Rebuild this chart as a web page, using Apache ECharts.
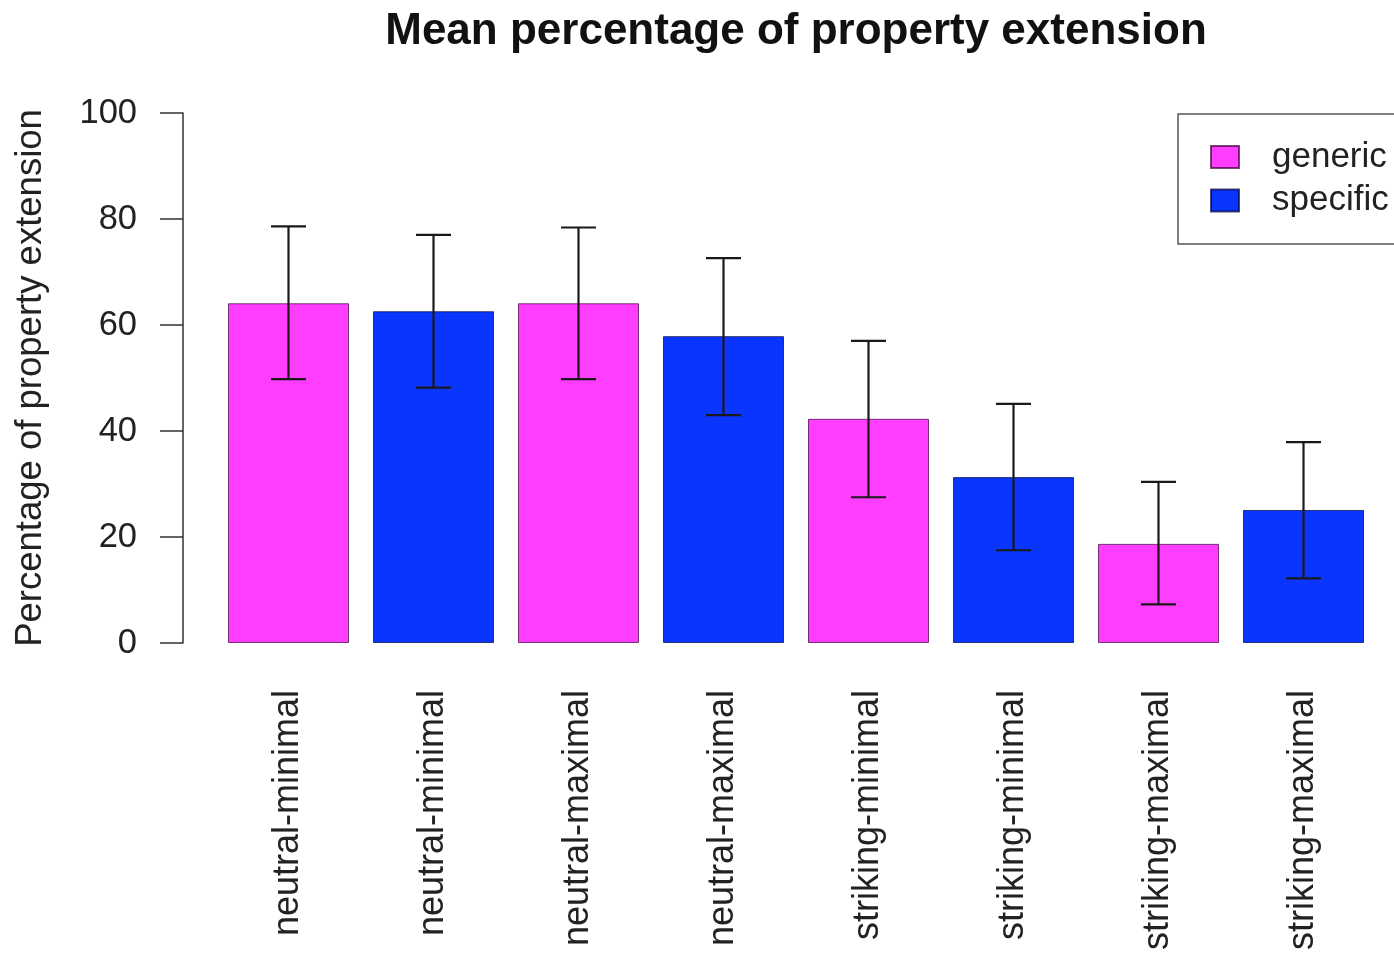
<!DOCTYPE html>
<html>
<head>
<meta charset="utf-8">
<script src="https://cdn.jsdelivr.net/npm/echarts@6/dist/echarts.min.js"></script>
<style>
html,body{margin:0;padding:0;background:#fff;}
#chart{width:1394px;height:955px;}
</style>
</head>
<body>
<div id="chart"></div>
<script>
var categories = ['neutral-minimal','neutral-minimal','neutral-maximal','neutral-maximal','striking-minimal','striking-minimal','striking-maximal','striking-maximal'];
var groups = ['generic','specific','generic','specific','generic','specific','generic','specific'];
var means = [64.1, 62.6, 64.1, 57.9, 42.3, 31.3, 18.7, 25.1];
var errLow = [49.8, 48.2, 49.8, 43.0, 27.5, 17.5, 7.3, 12.2];
var errHigh = [78.6, 77.0, 78.4, 72.6, 57.0, 45.1, 30.4, 37.9];
var yTicks = [0, 20, 40, 60, 80, 100];

var FONT = '"Liberation Sans", Arial, Helvetica, sans-serif';
var COLORS = { generic: '#FF3DFF', specific: '#0A35FF' };

function seriesData(g) {
  return means.map(function (v, i) { return groups[i] === g ? v : null; });
}
var errData = means.map(function (v, i) { return [i, errLow[i], errHigh[i]]; });

var chart = echarts.init(document.getElementById('chart'));
chart.setOption({
  backgroundColor: '#fff',
  animation: false,
  title: {
    text: 'Mean percentage of property extension',
    left: 791,
    textAlign: 'center',
    top: 5,
    textStyle: { fontFamily: FONT, fontSize: 44, fontWeight: 'bold', color: '#111' }
  },
  legend: {
    data: ['generic', 'specific'],
    orient: 'vertical',
    left: 1178,
    top: 114,
    padding: [25.5, 60, 26, 32],
    itemWidth: 28,
    itemHeight: 22,
    itemGap: 8.5,
    icon: 'rect',
    backgroundColor: '#fff',
    borderColor: '#555',
    borderWidth: 1.5,
    borderRadius: 0,
    textStyle: { fontFamily: FONT, fontSize: 35, color: '#222', padding: [0, 0, 0, 28] }
  },
  grid: { left: 216, right: 18, top: 113, bottom: 312, containLabel: false },
  xAxis: {
    type: 'category',
    data: categories,
    axisLine: { show: false },
    axisTick: { show: false },
    axisLabel: { rotate: 90, margin: 47, interval: 0, fontFamily: FONT, fontSize: 36, color: '#222' },
    splitLine: { show: false }
  },
  yAxis: {
    type: 'value',
    min: 0,
    max: 100,
    interval: 20,
    offset: 33,
    name: 'Percentage of property extension',
    nameLocation: 'middle',
    nameGap: 134,
    nameTextStyle: { fontFamily: FONT, fontSize: 36.5, color: '#222' },
    axisLine: { show: true, lineStyle: { color: '#333', width: 1.5 } },
    axisTick: { show: true, length: 23, inside: false, lineStyle: { color: '#333', width: 1.5 } },
    axisLabel: {
      margin: 46, fontFamily: FONT, fontSize: 34.5, color: '#222',
      formatter: function (v) { return yTicks.indexOf(v) >= 0 ? String(v) : ''; }
    },
    splitLine: { show: false }
  },
  series: [
    {
      name: 'generic',
      type: 'bar',
      data: seriesData('generic'),
      barWidth: 121,
      barGap: '-100%',
      itemStyle: { color: COLORS.generic, borderColor: 'rgba(60,0,60,0.7)', borderWidth: 1 }
    },
    {
      name: 'specific',
      type: 'bar',
      data: seriesData('specific'),
      barWidth: 121,
      barGap: '-100%',
      itemStyle: { color: COLORS.specific, borderColor: 'rgba(0,0,60,0.7)', borderWidth: 1 }
    },
    {
      name: 'err',
      type: 'custom',
      data: errData,
      encode: { x: 0, y: [1, 2] },
      z: 10,
      renderItem: function (params, api) {
        var x = api.value(0);
        var lo = api.coord([x, api.value(1)]);
        var hi = api.coord([x, api.value(2)]);
        var hw = 17.5;
        var st = { stroke: '#1a1a1a', lineWidth: 2.2 };
        return {
          type: 'group',
          children: [
            { type: 'line', shape: { x1: lo[0], y1: lo[1], x2: hi[0], y2: hi[1] }, style: st },
            { type: 'line', shape: { x1: lo[0] - hw, y1: lo[1], x2: lo[0] + hw, y2: lo[1] }, style: st },
            { type: 'line', shape: { x1: hi[0] - hw, y1: hi[1], x2: hi[0] + hw, y2: hi[1] }, style: st }
          ]
        };
      }
    }
  ]
});
</script>
</body>
</html>
